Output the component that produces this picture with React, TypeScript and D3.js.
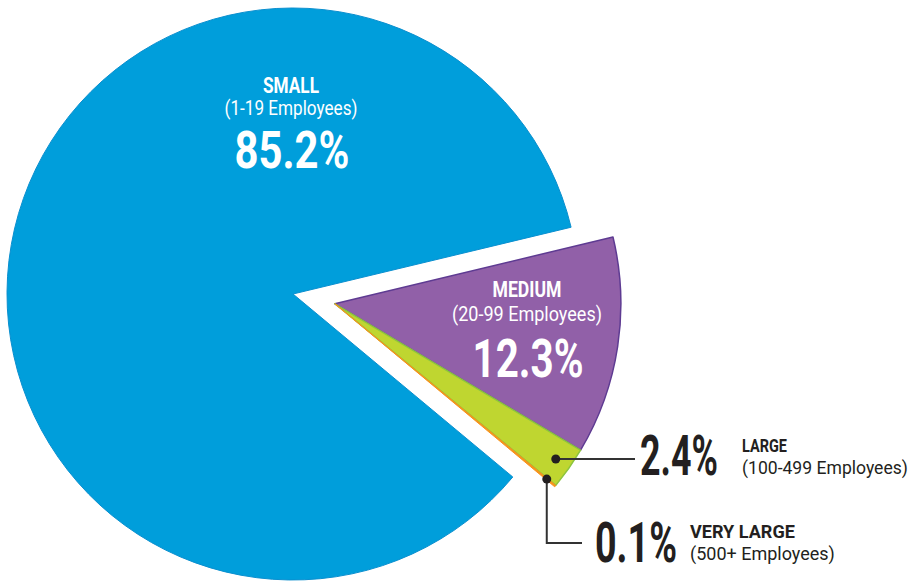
import React, { useRef, useEffect } from 'react';
import * as d3 from 'd3';

// Share of businesses by size
const categories = ['SMALL', 'MEDIUM', 'LARGE', 'VERY LARGE'];
const ranges = ['(1-19 Employees)', '(20-99 Employees)', '(100-499 Employees)', '(500+ Employees)'];
const shares = [85.2, 12.3, 2.4, 0.1];
const colors = ['#009edb', '#9160a8', '#bfd630', '#f7941d'];
const strokes = ['#0a8fcf', '#5e3b92', '#8cc43f', '#f7941d'];

const width = 913;
const height = 584;

interface Slice {
  name: string;
  range: string;
  value: number;
  color: string;
  stroke: string;
}

const data: Slice[] = categories.map((name, i) => ({
  name,
  range: ranges[i],
  value: shares[i],
  color: colors[i],
  stroke: strokes[i]
}));

const FONT = "'Liberation Sans Narrow', 'Roboto', 'DejaVu Sans', sans-serif";
const INK = '#231f20';

const App: React.FC = () => {
  const svgRef = useRef<SVGSVGElement>(null);

  useEffect(() => {
    if (!svgRef.current) return;
    const svg = d3.select(svgRef.current);
    svg.selectAll('*').remove();

    const cx = 293;
    const cy = 294;
    const radius = 286;
    const explode = 43;

    // medium slice starts just above 3 o'clock; small wraps round the rest
    const toRad = (deg: number) => (deg * Math.PI) / 180;
    const total = d3.sum(data, d => d.value);
    const mediumStart = toRad(76.5);
    const start = mediumStart - (2 * Math.PI * data[0].value) / total;

    const pie = d3.pie<Slice>()
      .value(d => d.value)
      .sort(null)
      .startAngle(start)
      .endAngle(start + 2 * Math.PI);

    const arcs = pie(data);
    const arc = d3.arc<d3.PieArcDatum<Slice>>()
      .innerRadius(0)
      .outerRadius(radius);

    // the three smaller slices are pulled out together along their bisector
    const groupMid = (arcs[1].startAngle + arcs[3].endAngle) / 2;
    const ox = explode * Math.sin(groupMid);
    const oy = -explode * Math.cos(groupMid);

    const root = svg.append('g').attr('transform', `translate(${cx},${cy})`);

    root.append('path')
      .attr('d', arc(arcs[0]) as string)
      .attr('fill', arcs[0].data.color)
      .attr('stroke', arcs[0].data.stroke)
      .attr('stroke-width', 1);

    const out = root.append('g').attr('transform', `translate(${ox},${oy})`);
    out.selectAll('path')
      .data(arcs.slice(1))
      .enter()
      .append('path')
      .attr('d', d => arc(d) as string)
      .attr('fill', d => d.data.color)
      .attr('stroke', d => d.data.stroke)
      .attr('stroke-width', (d, i) => (i === 2 ? 1 : 1.5))
      .attr('stroke-linejoin', 'round');

    // condensed look: squeeze each label horizontally to the width it has in the print
    const text = (
      x: number, y: number, str: string, size: number, weight: string,
      fill: string, len: number, anchor = 'start'
    ) => {
      const g = svg.append('g');
      const t = g.append('text')
        .attr('x', 0)
        .attr('y', 0)
        .attr('text-anchor', anchor)
        .style('font-family', FONT)
        .style('font-size', `${size}px`)
        .style('font-weight', weight)
        .style('fill', fill)
        .text(str);
      const natural = (t.node() as SVGTextElement).getComputedTextLength() || len;
      g.attr('transform', `translate(${x},${y}) scale(${len / natural},1)`);
    };

    // inside labels
    text(291, 93, data[0].name, 22, 'bold', '#fff', 56, 'middle');
    text(291, 115, data[0].range, 20, 'normal', '#fff', 133, 'middle');
    text(292, 168, `${data[0].value}%`, 52, 'bold', '#fff', 115, 'middle');

    text(527, 297, data[1].name, 22, 'bold', '#fff', 69, 'middle');
    text(527, 321, data[1].range, 20, 'normal', '#fff', 150, 'middle');
    text(528, 377, `${data[1].value}%`, 54, 'bold', '#fff', 111, 'middle');

    // callouts for the thin slices
    const pointAt = (d: d3.PieArcDatum<Slice>, r: number): [number, number] => {
      const a = (d.startAngle + d.endAngle) / 2;
      return [cx + ox + r * Math.sin(a), cy + oy - r * Math.cos(a)];
    };

    const [lx, ly] = pointAt(arcs[2], 270);
    const [vx, vy] = pointAt(arcs[3], 275);

    svg.append('path')
      .attr('d', `M${lx},${ly}H635`)
      .attr('fill', 'none')
      .attr('stroke', '#333')
      .attr('stroke-width', 2);
    svg.append('path')
      .attr('d', `M${vx},${vy}V543H582`)
      .attr('fill', 'none')
      .attr('stroke', '#333')
      .attr('stroke-width', 2);

    svg.selectAll('circle.dot')
      .data([[lx, ly], [vx, vy]])
      .enter()
      .append('circle')
      .attr('class', 'dot')
      .attr('cx', d => d[0])
      .attr('cy', d => d[1])
      .attr('r', 4.5)
      .attr('fill', INK);

    text(640, 475, `${data[2].value}%`, 56, 'bold', INK, 78);
    text(742, 452, data[2].name, 19, 'bold', INK, 45);
    text(742, 474, data[2].range, 19, 'normal', INK, 166);

    text(595, 562, `${data[3].value}%`, 56, 'bold', INK, 82);
    text(690, 538, data[3].name, 19, 'bold', INK, 105);
    text(690, 560, data[3].range, 19, 'normal', INK, 145);
  }, []);

  return (
    <svg
      ref={svgRef}
      width={width}
      height={height}
      viewBox={`0 0 ${width} ${height}`}
      style={{ position: 'absolute', left: 0, top: 0, background: '#fff' }}
    />
  );
};

export default App;
